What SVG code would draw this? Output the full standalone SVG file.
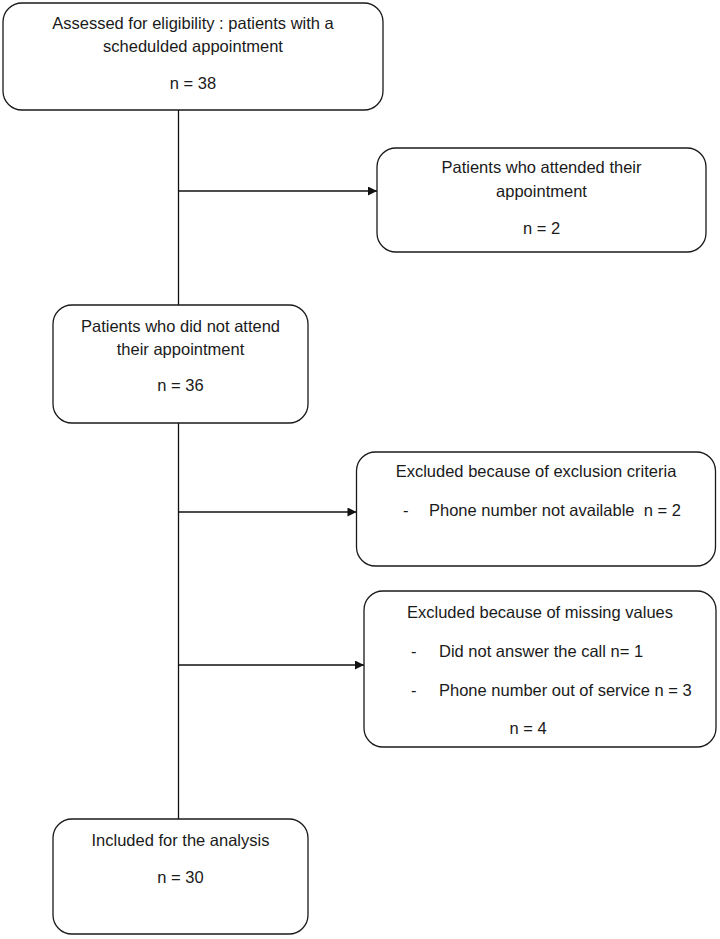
<svg xmlns="http://www.w3.org/2000/svg" width="720" height="939" viewBox="0 0 720 939">
<defs>
<style>
.box{fill:#ffffff;stroke:#1a1a1a;stroke-width:1.3}
.t{font-family:"Liberation Sans",Arial,Helvetica,sans-serif;font-size:16.5px;fill:#1a1a1a}
.c{text-anchor:middle}
.ln{fill:none;stroke:#111;stroke-width:1.3}
</style>
<marker id="ah" viewBox="0 0 10 10" refX="10" refY="5" markerWidth="10" markerHeight="9" markerUnits="userSpaceOnUse" orient="auto">
<path d="M0,0 L10,5 L0,10 Z" fill="#111"/>
</marker>
</defs>
<rect width="720" height="939" fill="#ffffff"/>
<g id="connectors">
<line class="ln" x1="178.5" y1="110" x2="178.5" y2="305"/>
<line class="ln" x1="178.5" y1="423" x2="178.5" y2="819"/>
<line class="ln" x1="178.5" y1="191" x2="377" y2="191" marker-end="url(#ah)"/>
<line class="ln" x1="178.5" y1="512" x2="356.5" y2="512" marker-end="url(#ah)"/>
<line class="ln" x1="178.5" y1="665" x2="364" y2="665" marker-end="url(#ah)"/>
</g>
<g id="assessed">
<rect class="box" x="3" y="3" width="380" height="107" rx="19"/>
<text class="t c" x="193" y="29">Assessed for eligibility : patients with a</text>
<text class="t c" x="193" y="52">schedulded appointment</text>
<text class="t c" x="193" y="89">n = 38</text>
</g>
<g id="attended">
<rect class="box" x="377" y="148" width="329" height="104" rx="19"/>
<text class="t c" x="541.5" y="173">Patients who attended their</text>
<text class="t c" x="541.5" y="197">appointment</text>
<text class="t c" x="541.5" y="234">n = 2</text>
</g>
<g id="not-attended">
<rect class="box" x="53" y="305" width="255" height="118" rx="19"/>
<text class="t c" x="180.5" y="332">Patients who did not attend</text>
<text class="t c" x="180.5" y="355">their appointment</text>
<text class="t c" x="180.5" y="391">n = 36</text>
</g>
<g id="exclusion-criteria">
<rect class="box" x="356.5" y="452" width="359" height="114" rx="19"/>
<text class="t c" x="536" y="477">Excluded because of exclusion criteria</text>
<text class="t" x="403" y="516">-</text>
<text class="t" x="429" y="516" xml:space="preserve">Phone number not available  n = 2</text>
</g>
<g id="missing-values">
<rect class="box" x="364" y="591" width="352" height="156" rx="19"/>
<text class="t c" x="540" y="618">Excluded because of missing values</text>
<text class="t" x="411" y="657">-</text>
<text class="t" x="439" y="657">Did not answer the call n= 1</text>
<text class="t" x="411" y="696">-</text>
<text class="t" x="439" y="696">Phone number out of service n = 3</text>
<text class="t c" x="528" y="734">n = 4</text>
</g>
<g id="included">
<rect class="box" x="53" y="819" width="255" height="115" rx="19"/>
<text class="t c" x="180.5" y="846">Included for the analysis</text>
<text class="t c" x="180.5" y="883">n = 30</text>
</g>
</svg>
